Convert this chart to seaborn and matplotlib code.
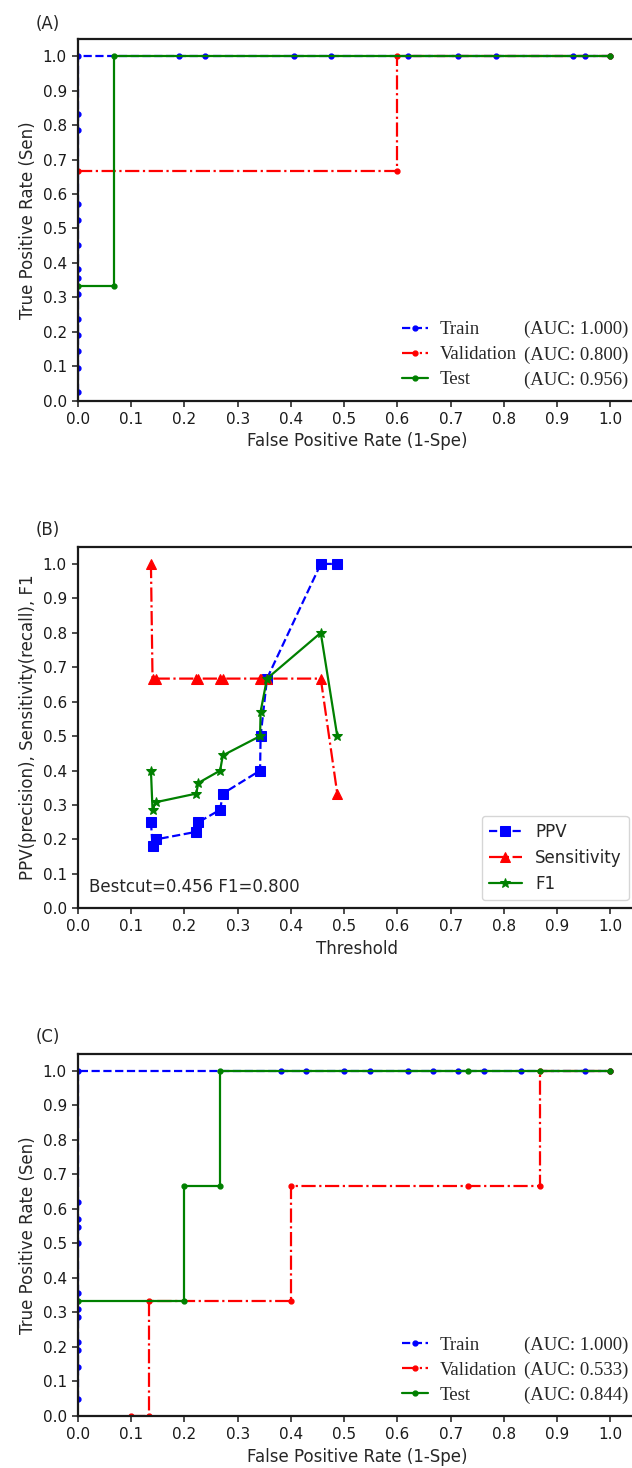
import pandas as pd
import seaborn as sns
import matplotlib.pyplot as plt
from matplotlib.lines import Line2D

# ---------------- (A) ROC curves ----------------
a_train_fpr = [0.0, 0.0, 0.0, 0.0, 0.0, 0.0, 0.0, 0.0, 0.0, 0.0, 0.0, 0.0, 0.0, 0.0,
               0.190, 0.238, 0.405, 0.476, 0.619, 0.714, 0.786, 0.929, 0.952, 1.0]
a_train_tpr = [0.024, 0.095, 0.143, 0.190, 0.238, 0.310, 0.357, 0.381, 0.452, 0.524, 0.571, 0.786, 0.833, 1.0,
               1.0, 1.0, 1.0, 1.0, 1.0, 1.0, 1.0, 1.0, 1.0, 1.0]
a_val_fpr = [0.0, 0.6, 0.6, 1.0]
a_val_tpr = [0.667, 0.667, 1.0, 1.0]
a_test_fpr = [0.0, 0.067, 0.067, 1.0]
a_test_tpr = [0.333, 0.333, 1.0, 1.0]
a_auc = ["(AUC: 1.000)", "(AUC: 0.800)", "(AUC: 0.956)"]

# ---------------- (B) threshold curves ----------------
b_threshold = [0.137, 0.140, 0.146, 0.222, 0.226, 0.267, 0.272, 0.342, 0.343, 0.355, 0.456, 0.487]
b_ppv = [0.25, 0.182, 0.2, 0.222, 0.25, 0.286, 0.333, 0.4, 0.5, 0.667, 1.0, 1.0]
b_sens = [1.0, 0.667, 0.667, 0.667, 0.667, 0.667, 0.667, 0.667, 0.667, 0.667, 0.667, 0.333]
b_f1 = [0.4, 0.286, 0.308, 0.333, 0.364, 0.4, 0.444, 0.5, 0.571, 0.667, 0.8, 0.5]
b_text = "Bestcut=0.456 F1=0.800"

# ---------------- (C) ROC curves ----------------
c_train_fpr = [0.0, 0.0, 0.0, 0.0, 0.0, 0.0, 0.0, 0.0, 0.0, 0.0, 0.0, 0.0,
               0.381, 0.429, 0.5, 0.548, 0.619, 0.667, 0.714, 0.762, 0.833, 0.952, 1.0]
c_train_tpr = [0.048, 0.143, 0.190, 0.214, 0.286, 0.310, 0.357, 0.5, 0.548, 0.571, 0.619, 1.0,
               1.0, 1.0, 1.0, 1.0, 1.0, 1.0, 1.0, 1.0, 1.0, 1.0, 1.0]
c_val_fpr = [0.1, 0.133, 0.133, 0.4, 0.4, 0.733, 0.867, 0.867, 1.0]
c_val_tpr = [0.0, 0.0, 0.333, 0.333, 0.667, 0.667, 0.667, 1.0, 1.0]
c_test_fpr = [0.0, 0.2, 0.2, 0.267, 0.267, 0.733, 0.867, 1.0]
c_test_tpr = [0.333, 0.333, 0.667, 0.667, 1.0, 1.0, 1.0, 1.0]
c_auc = ["(AUC: 1.000)", "(AUC: 0.533)", "(AUC: 0.844)"]

roc_names = ["Train", "Validation", "Test"]

sns.set_style("ticks", {"axes.edgecolor": "0.1", "xtick.color": "0.1", "ytick.color": "0.1"})
plt.rcParams['font.family'] = ['DejaVu Sans']
plt.rcParams['xtick.labelsize'] = 11
plt.rcParams['ytick.labelsize'] = 11
plt.rcParams['axes.labelsize'] = 12
plt.rcParams['axes.linewidth'] = 1.6

W, H = 632, 1468
fig = plt.figure(figsize=(W / 100, H / 100), dpi=100)


def make_axes(top_px, bottom_px):
    left, right = 78, 637
    return fig.add_axes([left / W, 1 - bottom_px / H, (right - left) / W, (bottom_px - top_px) / H])


def style_axes(ax, xlabel, ylabel):
    ax.set_xlim(0, 1.05)
    ax.set_ylim(0, 1.05)
    ax.set_xticks([i / 10 for i in range(11)])
    ax.set_yticks([i / 10 for i in range(11)])
    ax.set_xlabel(xlabel)
    ax.set_ylabel(ylabel)
    ax.tick_params(width=1.1, length=4.5)


def line(ax, x, y, color, ls, marker, ms):
    sns.lineplot(x=x, y=y, ax=ax, sort=False, estimator=None, color=color, linestyle=ls,
                 marker=marker, markersize=ms, markeredgecolor=color, markeredgewidth=1,
                 linewidth=1.6)


def roc_panel(ax, train, val, test, aucs):
    line(ax, train[0], train[1], "blue", "--", ".", 7)
    line(ax, val[0], val[1], "red", "-.", ".", 7)
    line(ax, test[0], test[1], "green", "-", ".", 7)
    style_axes(ax, "False Positive Rate (1-Spe)", "True Positive Rate (Sen)")
    handles = [Line2D([], [], color=c, linestyle=s, marker=".", markersize=7, linewidth=1.6)
               for c, s in [("blue", "--"), ("red", "-."), ("green", "-")]]
    blanks = [Line2D([], [], linestyle="none") for _ in aucs]
    ax.legend(handles + blanks, roc_names + aucs, ncol=2, loc="lower right",
              bbox_to_anchor=(0.998, 0.012), borderaxespad=0, frameon=False,
              prop={"family": "Liberation Serif", "size": 13.5},
              handlelength=1.4, handletextpad=0.6, columnspacing=-1.6, labelspacing=0.42)


ax_a = make_axes(39, 400.7)
roc_panel(ax_a, (a_train_fpr, a_train_tpr), (a_val_fpr, a_val_tpr), (a_test_fpr, a_test_tpr), a_auc)

ax_b = make_axes(546.7, 908.3)
sns.lineplot(x=b_threshold, y=b_ppv, ax=ax_b, sort=False, estimator=None, color="blue",
             linestyle="--", marker="s", markersize=7.5, markeredgecolor="blue", linewidth=1.6, label="PPV")
sns.lineplot(x=b_threshold, y=b_sens, ax=ax_b, sort=False, estimator=None, color="red",
             linestyle="-.", marker="^", markersize=7.5, markeredgecolor="red", linewidth=1.6, label="Sensitivity")
sns.lineplot(x=b_threshold, y=b_f1, ax=ax_b, sort=False, estimator=None, color="green",
             linestyle="-", marker="*", markersize=7.5, markeredgecolor="green", linewidth=1.6, label="F1")
style_axes(ax_b, "Threshold", "PPV(precision), Sensitivity(recall), F1")
ax_b.legend(loc="lower right", fontsize=12)
ax_b.text(0.02, 0.035, b_text, fontsize=12, va="bottom", ha="left")

ax_c = make_axes(1053.7, 1416)
roc_panel(ax_c, (c_train_fpr, c_train_tpr), (c_val_fpr, c_val_tpr), (c_test_fpr, c_test_tpr), c_auc)

for lab, y in [("(A)", 24), ("(B)", 530), ("(C)", 1037)]:
    fig.text(48 / W, 1 - y / H, lab, fontsize=12, ha="center", va="center")

fig.savefig("out.png", dpi=100)
